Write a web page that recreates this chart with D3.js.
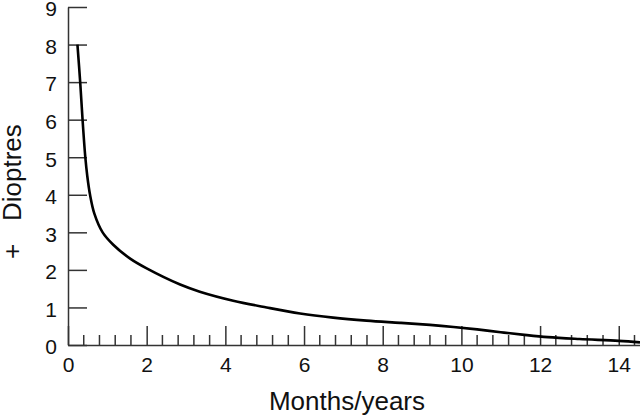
<!DOCTYPE html>
<html>
<head>
<meta charset="utf-8">
<script src="https://cdn.jsdelivr.net/npm/d3@7"></script>
<style>
  body { margin: 0; background: #fff; }
  svg { display: block; font-family: "Liberation Sans", Arial, Helvetica, sans-serif; }
</style>
</head>
<body>
<div id="chart"></div>
<script>
// values
var months = [0.24, 0.31, 0.37, 0.44, 0.49, 0.56, 0.67, 0.88, 1.15, 1.58, 2.0, 2.85, 3.35, 4.2, 5.05, 5.9, 6.74, 7.59, 8.44, 9.2, 9.8, 10.4, 11.0, 11.6, 12.2, 13, 14, 14.54];
var dioptres = [8, 7, 6, 5, 4.5, 4.0, 3.5, 3.0, 2.67, 2.3, 2.04, 1.61, 1.42, 1.18, 1.0, 0.84, 0.73, 0.65, 0.59, 0.535, 0.48, 0.415, 0.34, 0.27, 0.21, 0.16, 0.11, 0.07];
var xTicks = [0, 2, 4, 6, 8, 10, 12, 14];
var yTicks = [0, 1, 2, 3, 4, 5, 6, 7, 8, 9];

var width = 640, height = 416;
var margin = {top: 7, right: 0, bottom: 71, left: 68};

var svg = d3.select("#chart")
    .append("svg")
    .attr("width", width)
    .attr("height", height);

var x = d3.scaleLinear()
    .domain([0, 14.54])
    .range([margin.left, width - margin.right]);

var y = d3.scaleLinear()
    .domain([0, 9])
    .range([height - margin.bottom, margin.top]);

// minor ticks every 0.4 on the x axis
var minor = d3.range(0.4, 14.5, 0.4).filter(function (d) {
    return Math.abs(d / 2 - Math.round(d / 2)) > 0.01;
});

var gx = svg.append("g")
    .attr("transform", "translate(0," + y(0) + ")")
    .call(d3.axisBottom(x)
        .tickValues(xTicks)
        .tickSizeInner(-19)
        .tickSizeOuter(0)
        .tickPadding(12)
        .tickFormat(d3.format("d")));

gx.selectAll(".minor")
    .data(minor)
    .enter()
    .append("line")
    .attr("class", "minor")
    .attr("x1", function (d) { return x(d); })
    .attr("x2", function (d) { return x(d); })
    .attr("y1", 0)
    .attr("y2", -10);

var gy = svg.append("g")
    .attr("transform", "translate(" + x(0) + ",0)")
    .call(d3.axisLeft(y)
        .tickValues(yTicks)
        .tickSizeInner(-19)
        .tickSizeOuter(0)
        .tickPadding(11)
        .tickFormat(d3.format("d")));

gy.selectAll(".tick text").attr("dy", "0.42em");

svg.selectAll(".domain, .tick line, .minor")
    .attr("stroke", "#333")
    .attr("stroke-width", 1.5);

svg.selectAll(".tick text")
    .attr("fill", "#111")
    .style("font-size", "21px");

var line = d3.line()
    .x(function (d, i) { return x(months[i]); })
    .y(function (d) { return y(d); })
    .curve(d3.curveCatmullRom.alpha(0.5));

svg.append("path")
    .datum(dioptres)
    .attr("fill", "none")
    .attr("stroke", "#000")
    .attr("stroke-width", 2.6)
    .attr("d", line);

svg.append("text")
    .attr("x", 347)
    .attr("y", 410)
    .attr("text-anchor", "middle")
    .attr("fill", "#111")
    .style("font-size", "26px")
    .text("Months/years");

svg.append("text")
    .attr("transform", "translate(21,221) rotate(-90)")
    .attr("fill", "#111")
    .style("font-size", "26px")
    .text("Dioptres");

svg.append("text")
    .attr("transform", "translate(21,259) rotate(-90)")
    .attr("fill", "#111")
    .style("font-size", "26px")
    .text("+");
</script>
</body>
</html>
